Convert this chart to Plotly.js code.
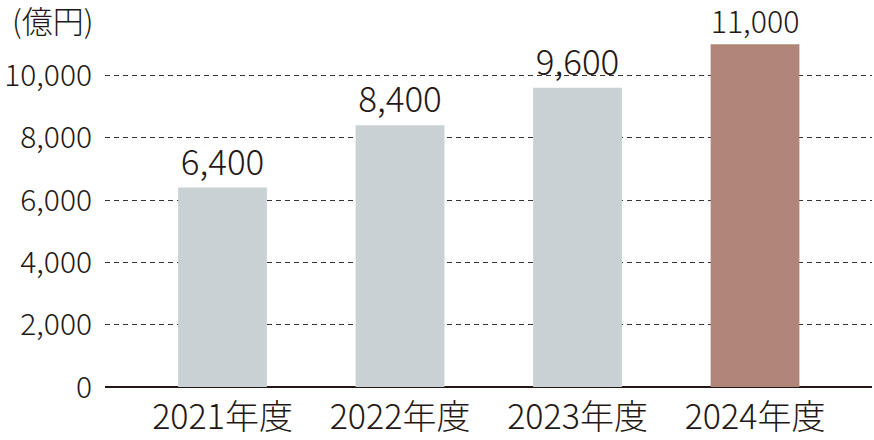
<!DOCTYPE html>
<html>
<head>
<meta charset="utf-8">
<script src="https://cdn.plot.ly/plotly-3.0.1.min.js"></script>
<style>
html,body{margin:0;padding:0;background:#fff;}
#chart{width:874px;height:440px;}
</style>
</head>
<body>
<div id="chart"></div>
<script>
var categories = ["2021年度", "2022年度", "2023年度", "2024年度"];
var values = [6400, 8400, 9600, 11000];
var barColors = ["#c9d1d4", "#c9d1d4", "#c9d1d4", "#b08679"];
var yTickVals = [0, 2000, 4000, 6000, 8000, 10000];
var yTickText = ["0", "2,000", "4,000", "6,000", "8,000", "10,000"];
var unitLabel = "(億円)";

var FONT = "'Noto Sans CJK JP', 'Noto Sans', sans-serif";
var INK = "#231815";
var W = 300;

var trace = {
  type: "bar",
  x: categories,
  y: values,
  width: 0.5,
  marker: {color: barColors, line: {width: 0}},
  text: values.map(function(v){ return v.toLocaleString("en-US"); }),
  textposition: "outside",
  textfont: {family: FONT, size: 35, color: INK, weight: W},
  cliponaxis: false,
  hoverinfo: "none"
};

var layout = {
  width: 874,
  height: 440,
  margin: {l: 105, r: 2, t: 13, b: 53},
  paper_bgcolor: "#fff",
  plot_bgcolor: "#fff",
  showlegend: false,
  font: {family: FONT, color: INK, weight: W},
  xaxis: {
    type: "category",
    range: [-0.662, 3.659],
    showgrid: false,
    zeroline: false,
    showline: false,
    ticks: "",
    tickfont: {family: FONT, size: 34, color: INK, weight: W},
    ticklabelstandoff: 7,
    fixedrange: true
  },
  yaxis: {
    range: [0, 12000],
    tickvals: yTickVals,
    ticktext: yTickText,
    showgrid: true,
    gridcolor: "#3a3230",
    gridwidth: 1,
    griddash: "5px,4px",
    zeroline: true,
    zerolinecolor: INK,
    zerolinewidth: 2.5,
    showline: false,
    ticks: "",
    ticklabelstandoff: 12,
    tickfont: {family: FONT, size: 30, color: INK, weight: W},
    fixedrange: true
  },
  annotations: [{
    text: unitLabel,
    xref: "paper", yref: "paper",
    x: (10 - 105) / 767, y: (387 - 20) / 374,
    xanchor: "left", yanchor: "middle",
    showarrow: false,
    font: {family: FONT, size: 31, color: INK, weight: W}
  }]
};

Plotly.newPlot("chart", [trace], layout, {displayModeBar: false, staticPlot: true});
</script>
</body>
</html>
